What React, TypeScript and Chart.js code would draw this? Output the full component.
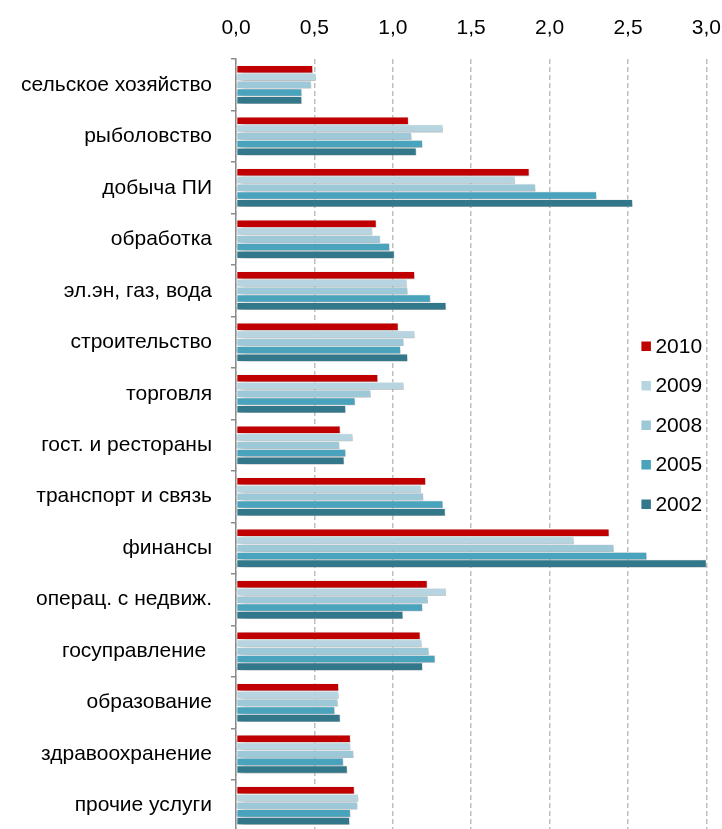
import React, { useEffect, useRef } from "react";
import { Chart, registerables } from "chart.js";

Chart.register(...registerables);

const categories = [
  "сельское хозяйство",
  "рыболовство",
  "добыча ПИ",
  "обработка",
  "эл.эн, газ, вода",
  "строительство",
  "торговля",
  "гост. и рестораны",
  "транспорт и связь",
  "финансы",
  "операц. с недвиж.",
  "госуправление ",
  "образование",
  "здравоохранение",
  "прочие услуги",
];

const seriesLabels = ["2010", "2009", "2008", "2005", "2002"];

const values2010 = [0.49, 1.1, 1.87, 0.895, 1.14, 1.035, 0.905, 0.665, 1.21, 2.38, 1.22, 1.175, 0.655, 0.73, 0.755];
const values2009 = [0.51, 1.32, 1.78, 0.87, 1.09, 1.14, 1.07, 0.745, 1.18, 2.155, 1.34, 1.185, 0.655, 0.73, 0.78];
const values2008 = [0.48, 1.12, 1.91, 0.92, 1.095, 1.07, 0.86, 0.66, 1.195, 2.41, 1.225, 1.23, 0.65, 0.75, 0.775];
const values2005 = [0.42, 1.19, 2.3, 0.98, 1.24, 1.05, 0.76, 0.7, 1.32, 2.62, 1.19, 1.27, 0.63, 0.685, 0.73];
const values2002 = [0.42, 1.15, 2.53, 1.01, 1.34, 1.095, 0.7, 0.69, 1.335, 3.0, 1.065, 1.19, 0.665, 0.71, 0.725];

const seriesColors = ["#C00000", "#B7D5E1", "#9DC8D8", "#4AA3BC", "#32788A"];

const tickValues = [0, 0.5, 1, 1.5, 2, 2.5, 3];
const tickLabels = ["0,0", "0,5", "1,0", "1,5", "2,0", "2,5", "3,0"];

const FONT = "'Liberation Sans', Arial, sans-serif";
const FONT_SIZE = 21;

const shadowPlugin = {
  id: "barShadow",
  beforeDatasetsDraw(chart: any) {
    const c = chart.ctx;
    c.save();
    c.shadowColor = "rgba(0,0,0,0.4)";
    c.shadowBlur = 6;
    c.shadowOffsetX = 3;
    c.shadowOffsetY = 3;
  },
  afterDatasetsDraw(chart: any) {
    chart.ctx.restore();
  },
};

const insideLegend = {
  id: "insideLegend",
  afterDraw(chart: any) {
    const { ctx, chartArea } = chart;
    ctx.save();
    ctx.font = `${FONT_SIZE}px ${FONT}`;
    ctx.textBaseline = "middle";
    ctx.textAlign = "left";
    chart.data.datasets.forEach((ds: any, i: number) => {
      const x = chartArea.right - 65;
      const y = chartArea.top + 287 + i * 39.5;
      ctx.fillStyle = ds.backgroundColor;
      ctx.fillRect(x, y - 4.5, 9.5, 9.5);
      ctx.fillStyle = "#000";
      ctx.fillText(ds.label, x + 14, y + 1);
    });
    ctx.restore();
  },
};

export default function App() {
  const ref = useRef<HTMLCanvasElement | null>(null);

  useEffect(() => {
    if (!ref.current) return;
    const all = [values2010, values2009, values2008, values2005, values2002];
    const chart = new Chart(ref.current, {
      type: "bar",
      data: {
        labels: categories,
        datasets: all.map((vals, i) => ({
          label: seriesLabels[i],
          data: vals,
          backgroundColor: seriesColors[i],
          borderColor: "rgba(255,255,255,0.85)",
          borderWidth: 0.6,
          borderSkipped: false,
          barPercentage: 1,
          categoryPercentage: 0.75,
        })),
      },
      options: {
        indexAxis: "y",
        animation: false,
        responsive: true,
        maintainAspectRatio: false,
        layout: { padding: { top: 0, right: 16, bottom: 0, left: 0 } },
        plugins: {
          legend: { display: false },
          tooltip: { enabled: false },
        },
        scales: {
          x: {
            position: "top",
            min: 0,
            max: 3,
            afterBuildTicks: (scale: any) => {
              scale.ticks = tickValues.map((v) => ({ value: v }));
            },
            afterFit: (scale: any) => {
              scale.height = 59;
            },
            ticks: {
              color: "#000",
              font: { size: FONT_SIZE, family: FONT },
              padding: 18,
              callback: (v: any) => {
                const idx = tickValues.indexOf(Number(v));
                return idx >= 0 ? tickLabels[idx] : "";
              },
            },
            grid: {
              color: "#BFBFBF",
              lineWidth: 1.5,
              drawTicks: false,
            },
            border: { display: false, dash: [5, 3] },
          },
          y: {
            afterFit: (scale: any) => {
              scale.width = 236;
            },
            ticks: {
              color: "#000",
              font: { size: FONT_SIZE, family: FONT },
              padding: 19,
              autoSkip: false,
            },
            grid: {
              drawOnChartArea: false,
              drawTicks: true,
              tickLength: 5,
              color: "#8C8C8C",
              lineWidth: 1.5,
            },
            border: { display: true, color: "#8C8C8C", width: 1.5 },
          },
        },
      } as any,
      plugins: [shadowPlugin, insideLegend],
    });
    return () => chart.destroy();
  }, []);

  return (
    <div
      style={{
        position: "fixed",
        left: 0,
        top: 0,
        width: 722,
        height: 829,
        overflow: "hidden",
        background: "#fff",
      }}
    >
      <div style={{ position: "relative", width: 739, height: 863 }}>
        <canvas ref={ref} />
      </div>
    </div>
  );
}
